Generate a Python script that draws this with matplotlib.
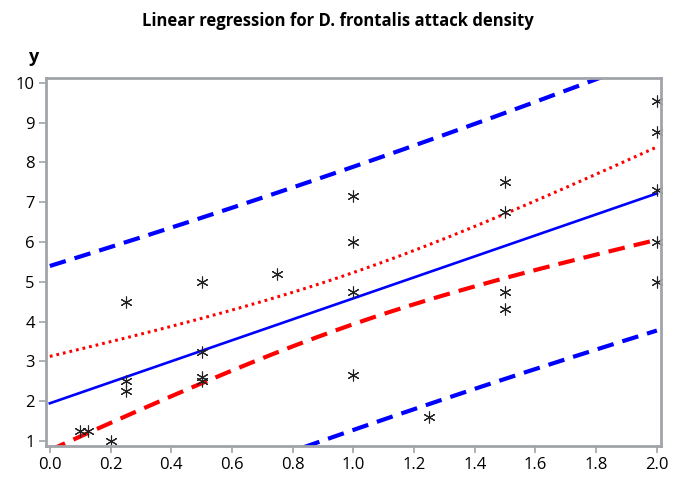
import numpy as np
import matplotlib
matplotlib.use("Agg")
import matplotlib.pyplot as plt

# attack density observations
x = np.array([0.1, 0.125, 0.2, 0.25, 0.25, 0.25, 0.5, 0.5, 0.5, 0.5, 0.75,
              1.0, 1.0, 1.0, 1.0, 1.25, 1.5, 1.5, 1.5, 1.5,
              2.0, 2.0, 2.0, 2.0, 2.0])
y = np.array([1.25, 1.25, 1.0, 4.5, 2.5, 2.25, 5.0, 3.25, 2.6, 2.5, 5.2,
              7.15, 6.0, 4.75, 2.65, 1.6, 7.5, 6.75, 4.75, 4.33,
              9.55, 8.75, 7.3, 6.0, 5.0])

xticks = [0.0, 0.2, 0.4, 0.6, 0.8, 1.0, 1.2, 1.4, 1.6, 1.8, 2.0]
yticks = [1, 2, 3, 4, 5, 6, 7, 8, 9, 10]

# fitted line and t * root MSE from the regression output
b0 = 1.95
b1 = 2.635
ts = 3.24

n = len(x)
sxx = np.sum((x - x.mean())**2)
xg = np.linspace(0, 2, 200)
fit = b0 + b1 * xg
h_mean = ts * np.sqrt(1 / n + (xg - x.mean())**2 / sxx)
h_pred = ts * np.sqrt(1 + 1 / n + (xg - x.mean())**2 / sxx)

plt.rcParams['font.family'] = ['Open Sans', 'DejaVu Sans']

fig = plt.figure(figsize=(6.75, 4.9), dpi=100)
ax = fig.add_axes([0.068, 0.09, 0.911, 0.751])

ax.plot(xg, fit + h_pred, color="#0000ff", lw=3, ls=(0, (4, 2.2)))
ax.plot(xg, fit - h_pred, color="#0000ff", lw=3, ls=(0, (4, 2.2)))
ax.plot(xg, fit + h_mean, color="#ff0000", lw=2.2, ls=(0, (0.9, 1.3)))
ax.plot(xg, fit - h_mean, color="#ff0000", lw=3, ls=(0, (4, 2.2)))
ax.plot(xg, fit, color="#0000ff", lw=1.9)
ax.plot(x, y, ls="none", marker=(6, 2, 0), ms=8.5, mew=0.8,
        color="#222222", clip_on=False)

ax.set_xlim(-0.013, 2.013)
ax.set_ylim(0.88, 10.12)
ax.set_xticks(xticks)
ax.set_xticklabels([f"{v:.1f}" for v in xticks])
ax.set_yticks(yticks)

for sp in ax.spines.values():
    sp.set_color("#a0a4a8")
    sp.set_linewidth(2)
ax.tick_params(colors="#a0a4a8", labelcolor="black", labelsize=12,
               length=5, width=1.2, pad=3)

fig.text(0.5, 0.958, "Linear regression for D. frontalis attack density",
         ha="center", va="center", fontsize=12, fontweight="bold")
fig.text(0.05, 0.883, "y", ha="center", va="center", fontsize=13,
         fontweight="bold")

fig.savefig("out.png", dpi=100)
